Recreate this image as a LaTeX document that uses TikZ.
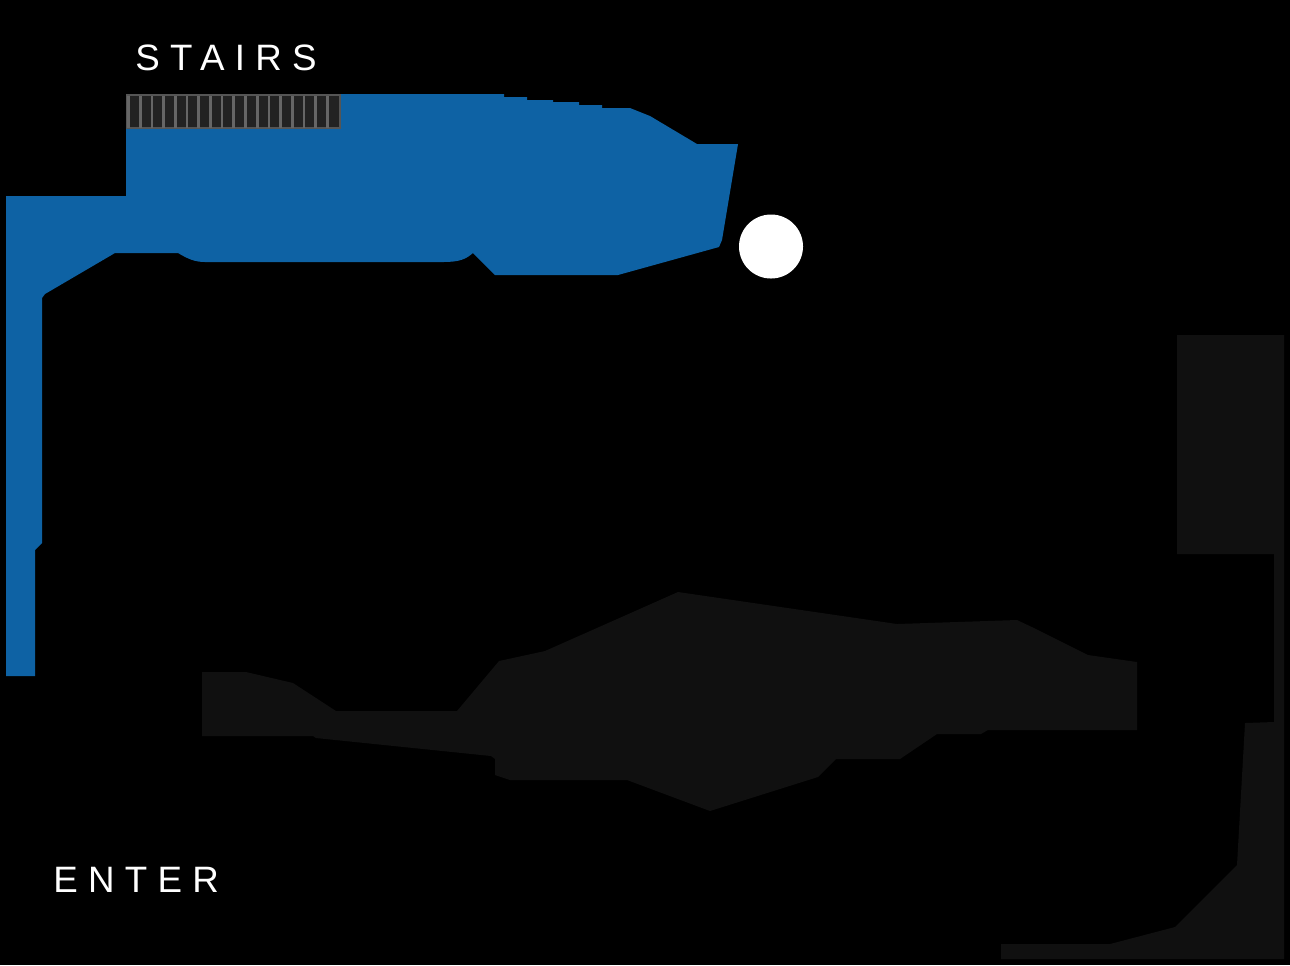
\documentclass[tikz,border=0pt]{standalone}
\usepackage{fontspec}
\setmainfont{Liberation Sans}
\definecolor{roomblue}{HTML}{0E62A4}
\definecolor{roomdark}{HTML}{101010}
\definecolor{stairfill}{HTML}{222222}
\definecolor{stairedge}{HTML}{555555}
\definecolor{stairbar}{HTML}{666666}
\tikzset{
    room/.style={fill=roomblue},
    darkroom/.style={fill=roomdark},
    signtext/.style={text=white, inner sep=0pt, anchor=base west, font=\addfontfeature{LetterSpace=28}\fontsize{20.9pt}{24pt}\selectfont}
}
\begin{document}
\begin{tikzpicture}[x=0.02cm, y=-0.02cm]
    % Background
    \fill[black] (0,0) rectangle (1290,965);
    \useasboundingbox (0,0) rectangle (1290,965);

    % Blue area
    \fill[room] (6,196) -- (126,196) -- (126,94) -- (504,94) -- (504,97) -- (527,97) -- (527,100) -- (553,100)
        -- (553,102) -- (579,102) -- (579,105) -- (602,105) -- (602,108) -- (630,108) -- (650,116) -- (697,144)
        -- (738,144) -- (722,240) -- (719,247) -- (618,275) -- (495,275) -- (473,253)
        .. controls (466,259) and (460,262) .. (443,262)
        -- (205,262) .. controls (195,262) and (188,259) .. (178,253)
        -- (115,253) -- (45,294) -- (42,298) -- (42,543) -- (35,550)
        -- (35,676) -- (6,676) -- cycle;

    % Stairs
    \draw[stairedge, fill=stairfill, line width=1.2pt] (127,95) rectangle (340,128);
    \foreach \i in {0,...,17} {
        \draw[stairbar, line width=1.5pt] ({128.5+11.7*\i},96) -- ({128.5+11.7*\i},128);
    }
    \node[signtext] (stairs) at (135,70.5) {STAIRS};

    % Lamp
    \fill[white] (771,246.5) circle (32);

    % Dark middle area
    \fill[darkroom] (202,672) -- (246,672) -- (293,683) -- (336,711) -- (457,711) -- (499,661) -- (545,651)
        -- (678,592) -- (897,624) -- (1017,620) -- (1036,629) -- (1088,655) -- (1137,662) -- (1137,730)
        -- (988,730) -- (981,734) -- (937,734) -- (900,759) -- (836,759) -- (818,777) -- (710,811) -- (627,780)
        -- (510,780) -- (495,775) -- (495,759) -- (491,756) -- (316,738) -- (313,736) -- (202,736) -- cycle;

    % Dark right area
    \fill[darkroom] (1177,335) -- (1284,335) -- (1284,959) -- (1001,959) -- (1001,944) -- (1110,944)
        -- (1175,927) -- (1237,865) -- (1245,723) -- (1274,722) -- (1274,554) -- (1177,554) -- cycle;

    \node[signtext] (enter) at (53,892.5) {ENTER};
\end{tikzpicture}
\end{document}
